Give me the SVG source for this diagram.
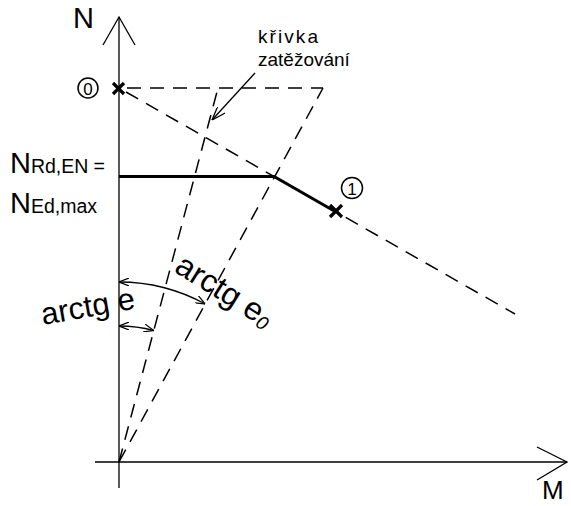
<svg xmlns="http://www.w3.org/2000/svg" width="571" height="506" viewBox="0 0 571 506">
<style>
.ax{stroke:#000;stroke-width:1.3;fill:none}
.dash{stroke:#000;stroke-width:1.5;fill:none;stroke-dasharray:14 9}
.thick{stroke:#000;stroke-width:3;fill:none;stroke-linejoin:miter}
.thin{stroke:#000;stroke-width:1.3;fill:none}
.cross{stroke:#000;stroke-width:3.2;stroke-linecap:butt}
.circ{fill:none;stroke:#000;stroke-width:1.5}
text{font-family:"Liberation Sans",Arial,sans-serif;fill:#000}
</style>
<defs>
<marker id="ah" viewBox="0 0 10 8" refX="10" refY="4" markerWidth="10" markerHeight="8" markerUnits="userSpaceOnUse" orient="auto-start-reverse">
<path d="M0,0 L10,4 L0,8" fill="none" stroke="#000" stroke-width="1.2"/>
</marker>
<marker id="ah2" viewBox="0 0 14 10" refX="14" refY="5" markerWidth="14" markerHeight="10" markerUnits="userSpaceOnUse" orient="auto">
<path d="M0,0 L14,5 L0,10" fill="none" stroke="#000" stroke-width="1.3"/>
</marker>
</defs>
<g id="axes">
<line class="ax" x1="119" y1="17" x2="119" y2="488"/>
<polyline class="ax" points="103,45 119,17 135,45"/>
<line class="ax" x1="95" y1="462" x2="567" y2="462"/>
<polyline class="ax" points="537,447 567,462 537,480"/>
<text x="73" y="28" font-size="29">N</text>
<text x="542" y="499" font-size="26">M</text>
</g>
<g id="connectors">
<line class="dash" x1="127" y1="88" x2="323" y2="88"/>
<line class="dash" x1="119" y1="462" x2="323" y2="88"/>
<line class="dash" x1="119" y1="462" x2="218" y2="88"/>
<line class="dash" x1="126" y1="92" x2="515" y2="314"/>
<polyline class="thick" points="119,176.5 274,176.5 336,212"/>
<line class="thin" x1="255" y1="73" x2="212" y2="120" marker-end="url(#ah2)"/>
<path class="thin" d="M119,282 A180,180 0 0 1 205.2,304" marker-start="url(#ah)" marker-end="url(#ah)"/>
<path class="thin" d="M119,326 A136,136 0 0 1 153.8,330.5" marker-start="url(#ah)" marker-end="url(#ah)"/>
</g>
<g id="point0">
<line class="cross" x1="113" y1="83" x2="124" y2="94"/>
<line class="cross" x1="124" y1="83" x2="113" y2="94"/>
<circle class="circ" cx="88" cy="88" r="10"/>
<text x="88" y="94.5" font-size="17" text-anchor="middle">0</text>
</g>
<g id="point1">
<line class="cross" x1="330" y1="205" x2="342" y2="217"/>
<line class="cross" x1="342" y1="205" x2="330" y2="217"/>
<circle class="circ" cx="352" cy="188" r="10.5"/>
<text x="352" y="194.5" font-size="17" text-anchor="middle">1</text>
</g>
<g id="label-krivka">
<text x="258" y="43" font-size="19" textLength="60">křivka</text>
<text x="258" y="66" font-size="19">zatěžování</text>
</g>
<g id="label-N">
<text x="10" y="173" font-size="29">N<tspan font-size="19.5" textLength="74">Rd,EN =</tspan></text>
<text x="10" y="213" font-size="29">N<tspan font-size="19.5">Ed,max</tspan></text>
</g>
<g id="label-arctg-e">
<text x="43" y="325" font-size="31" transform="rotate(-10 43 325)">arctg e</text>
</g>
<g id="label-arctg-e0">
<text x="173" y="271" font-size="32" transform="rotate(32 173 271)">arctg e<tspan font-size="19" font-style="italic" dy="3">0</tspan></text>
</g>
</svg>
